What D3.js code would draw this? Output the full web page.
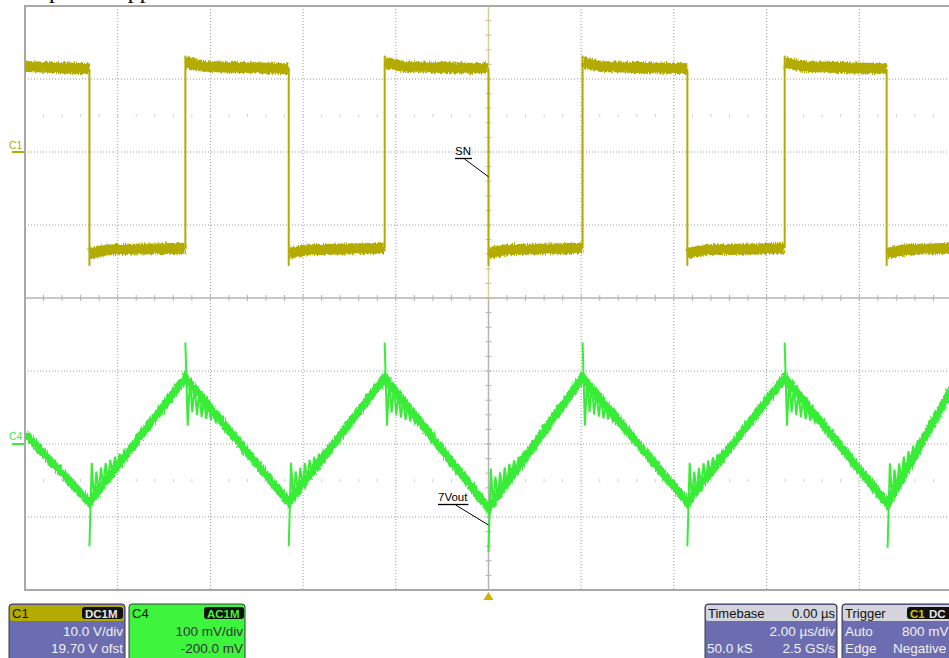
<!DOCTYPE html>
<html>
<head>
<meta charset="utf-8">
<script src="https://cdnjs.cloudflare.com/ajax/libs/d3/7.8.5/d3.min.js"></script>
<style>
  body { margin: 0; background: #fff; }
  svg { display: block; font-family: "Liberation Sans", Arial, sans-serif; }
</style>
</head>
<body>
<div id="scopeContainer"></div>
<script>
// corners of the C4 ripple (µs) and its value there (mV)
let vertexTimes = [-10, -8.61, -6.54, -4.31, -2.24, 0.0, 2.03, 4.29, 6.39, 8.61, 10];
let c4Values = [14, -80, 91, -80, 91, -88, 91, -80, 91, -82, 76];

// ringing right after each corner, mV offsets every 0.05 µs
let ringStep = 0.05;
let ringAfterPeak = [48, -62, 6, -36, 5, -32, 4, -27, 3, -22, 2, -16, 2, -10, 1, -5];
let ringAfterValley = [-60, 50, -6, 30, -5, 27, -4, 25, -4, 21, -3, 17, -2, 13, -2, 9, -1, 5];

// C1 switch node (V)
let c1FallTimes = [-8.61, -4.31, 0.0, 4.29, 8.59];
let c1RiseTimes = [-6.54, -2.24, 2.03, 6.39];
let c1HighLevel = [12.3, 11.7, 11.4];   // start, settled, end of a high phase
let c1LowLevel = [-13.9, -13.4, -13.2];
let c1RiseOvershoot = 13.2;
let c1FallUndershoot = -15.6;

let c1Box = ['C1', 'DC1M', '10.0 V/div', '19.70 V ofst'];
let c4Box = ['C4', 'AC1M', '100 mV/div', '-200.0 mV'];
let timebaseBox = ['Timebase', '0.00 µs', '2.00 µs/div', '50.0 kS', '2.5 GS/s'];
let triggerBox = ['Trigger', 'Auto', '800 mV', 'Edge', 'Negative'];

let width = 949, height = 658;
let plot = {left: 25, right: 952, top: 6, bottom: 590, mid: 298};

let svg = d3.select('#scopeContainer').append('svg')
    .attr('width', width)
    .attr('height', height);

let x = d3.scaleLinear().domain([-10, 10]).range([plot.left, plot.right]);
let yC1 = d3.scaleLinear().domain([-20, 20]).range([plot.mid, plot.top]);
let yC4 = d3.scaleLinear().domain([-200, 200]).range([plot.bottom, plot.mid]);

let c1Color = '#b3ab00', c4Color = '#38ec38';

let defs = svg.append('defs');
defs.append('clipPath').attr('id', 'plotClip')
  .append('rect')
    .attr('x', plot.left).attr('y', plot.top)
    .attr('width', width - plot.left).attr('height', plot.bottom - plot.top);

let fuzz = defs.append('filter').attr('id', 'fuzz')
    .attr('x', '-2%').attr('y', '-20%').attr('width', '104%').attr('height', '140%');
fuzz.append('feTurbulence').attr('type', 'fractalNoise')
    .attr('baseFrequency', '0.9 0.25').attr('numOctaves', 1).attr('seed', 4).attr('result', 'noise');
fuzz.append('feDisplacementMap').attr('in', 'SourceGraphic').attr('in2', 'noise')
    .attr('scale', 6).attr('xChannelSelector', 'R').attr('yChannelSelector', 'G');

// cut-off caption above the screen
svg.append('text').attr('x', 13).attr('y', -2)
    .style('font-family', '"Liberation Serif", serif').style('font-size', '24px')
    .text('Output');
svg.append('text').attr('x', 113).attr('y', -2)
    .style('font-family', '"Liberation Serif", serif').style('font-size', '24px')
    .text('ripple');

// grid
let grid = svg.append('g').attr('class', 'grid');
let vTicks = x.ticks(10).filter(function(d){ return d > -10 && d !== 0 && d < 10; });
grid.selectAll('.vline').data(vTicks).enter().append('line')
    .attr('x1', function(d){ return x(d); }).attr('x2', function(d){ return x(d); })
    .attr('y1', plot.top).attr('y2', plot.bottom)
    .style('stroke', '#9c9c9c').style('stroke-dasharray', '1,2');

let hC1 = yC1.ticks(4).filter(function(d){ return d > -20 && d < 20; });
let hC4 = yC4.ticks(4).filter(function(d){ return d > -200 && d < 200; });
grid.selectAll('.hline1').data(hC1).enter().append('line')
    .attr('x1', plot.left).attr('x2', width)
    .attr('y1', function(d){ return yC1(d); }).attr('y2', function(d){ return yC1(d); })
    .style('stroke', '#9c9c9c').style('stroke-dasharray', '1,2');
grid.selectAll('.hline4').data(hC4).enter().append('line')
    .attr('x1', plot.left).attr('x2', width)
    .attr('y1', function(d){ return yC4(d); }).attr('y2', function(d){ return yC4(d); })
    .style('stroke', '#9c9c9c').style('stroke-dasharray', '1,2');

// faint minor rows
let minorT = d3.range(-10, 10.01, 0.4);
[yC1(5), yC4(-50)].forEach(function(yy){
  grid.selectAll(null).data(minorT).enter().append('line')
      .attr('x1', function(d){ return x(d); }).attr('x2', function(d){ return x(d); })
      .attr('y1', yy - 1.5).attr('y2', yy + 1.5)
      .style('stroke', '#d0d0d0');
});

// centre axes with ticks
grid.append('line').attr('x1', plot.left).attr('x2', width)
    .attr('y1', plot.mid).attr('y2', plot.mid)
    .style('stroke', '#b4b4b4').style('stroke-width', 1.5);
grid.selectAll('.hTick').data(minorT).enter().append('line')
    .attr('x1', function(d){ return x(d); }).attr('x2', function(d){ return x(d); })
    .attr('y1', plot.mid - 3).attr('y2', plot.mid + 3)
    .style('stroke', '#b4b4b4');

grid.append('line').attr('x1', x(0)).attr('x2', x(0))
    .attr('y1', plot.top).attr('y2', plot.mid)
    .style('stroke', '#d2d296').style('stroke-width', 1.5);
grid.append('line').attr('x1', x(0)).attr('x2', x(0))
    .attr('y1', plot.mid).attr('y2', plot.bottom)
    .style('stroke', '#b4b4b4').style('stroke-width', 1.5);
grid.selectAll('.vTick1').data(d3.range(-20, 20.01, 2)).enter().append('line')
    .attr('x1', x(0) - 3).attr('x2', x(0) + 3)
    .attr('y1', function(d){ return yC1(d); }).attr('y2', function(d){ return yC1(d); })
    .style('stroke', '#c8c88a');
grid.selectAll('.vTick4').data(d3.range(-200, 200.01, 20)).enter().append('line')
    .attr('x1', x(0) - 3).attr('x2', x(0) + 3)
    .attr('y1', function(d){ return yC4(d); }).attr('y2', function(d){ return yC4(d); })
    .style('stroke', '#b4b4b4');

// borders
grid.append('path')
    .attr('d', 'M' + width + ',' + plot.top + 'H' + plot.left + 'V' + plot.bottom + 'H' + width)
    .style('fill', 'none').style('stroke', '#a8a8a8').style('stroke-width', 2);

// ---- C1 trace
let c1Group = svg.append('g').attr('clip-path', 'url(#plotClip)');
let edges = c1FallTimes.map(function(t){ return {t: t, type: 'fall'}; })
    .concat(c1RiseTimes.map(function(t){ return {t: t, type: 'rise'}; }))
    .sort(function(a, b){ return a.t - b.t; });

let c1Segments = [];
let segStart = -10, high = true;
edges.concat([{t: 10, type: 'end'}]).forEach(function(e){
  let lv = high ? c1HighLevel : c1LowLevel;
  let pts;
  if (segStart === -10) {
    pts = [[segStart, lv[1]], [e.t, lv[2]]];
  } else {
    pts = [[segStart, lv[0]], [Math.min(segStart + 0.4, e.t), lv[1]], [e.t, lv[2]]];
  }
  c1Segments.push(pts);
  segStart = e.t;
  high = !high;
});

let c1Line = d3.line().x(function(d){ return x(d[0]); }).y(function(d){ return yC1(d[1]); });
c1Group.append('g').attr('filter', 'url(#fuzz)')
  .selectAll('path').data(c1Segments).enter().append('path')
    .attr('d', c1Line)
    .style('fill', 'none').style('stroke', c1Color).style('stroke-width', 11);

c1Group.selectAll('.edge').data(edges).enter().append('line')
    .attr('x1', function(d){ return x(d.t); }).attr('x2', function(d){ return x(d.t); })
    .attr('y1', function(d){ return d.type === 'fall' ? yC1(c1HighLevel[2]) : yC1(c1LowLevel[2]); })
    .attr('y2', function(d){ return d.type === 'fall' ? yC1(c1FallUndershoot) : yC1(c1RiseOvershoot); })
    .style('stroke', c1Color).style('stroke-width', 2);

// ---- C4 trace
let c4Group = svg.append('g').attr('clip-path', 'url(#plotClip)');
let c4Points = vertexTimes.map(function(t, i){ return [t, c4Values[i]]; });
let c4Line = d3.line().x(function(d){ return x(d[0]); }).y(function(d){ return yC4(d[1]); });

c4Group.append('path').datum(c4Points)
    .attr('filter', 'url(#fuzz)')
    .attr('d', c4Line)
    .style('fill', 'none').style('stroke', c4Color).style('stroke-width', 8)
    .style('stroke-linejoin', 'miter');

let rings = [];
for (let i = 1; i < vertexTimes.length - 1; i++) {
  let t0 = vertexTimes[i], v0 = c4Values[i];
  let t1 = vertexTimes[i + 1], v1 = c4Values[i + 1];
  let offsets = v0 > c4Values[i - 1] ? ringAfterPeak : ringAfterValley;
  rings.push(offsets.map(function(o, k){
    let t = t0 + k * ringStep;
    return [t, v0 + (v1 - v0) * (t - t0) / (t1 - t0) + o];
  }));
}
c4Group.selectAll('.ring').data(rings).enter().append('path')
    .attr('d', c4Line)
    .style('fill', 'none').style('stroke', c4Color).style('stroke-width', 2);

// ---- channel markers
svg.append('text').attr('x', 9).attr('y', yC1(0) - 3)
    .style('font-size', '10.5px').style('fill', c1Color).text('C1');
svg.append('line').attr('x1', 12).attr('x2', 24).attr('y1', yC1(0)).attr('y2', yC1(0))
    .style('stroke', c1Color).style('stroke-width', 2);
svg.append('text').attr('x', 9).attr('y', yC4(0) - 4)
    .style('font-size', '10.5px').style('fill', c4Color).text('C4');
svg.append('line').attr('x1', 12).attr('x2', 24).attr('y1', yC4(0)).attr('y2', yC4(0))
    .style('stroke', c4Color).style('stroke-width', 2);

// trigger position marker
svg.append('path')
    .attr('d', 'M' + x(0) + ',' + (plot.bottom + 2) + 'l5,8h-10z')
    .style('fill', '#d0b000');

// ---- trace labels
function traceLabel(label, tx, ty, px, py) {
  let g = svg.append('g');
  let t = g.append('text').attr('x', tx).attr('y', ty)
      .style('font-size', '11.5px').style('fill', '#000').text(label);
  let w = t.node().getComputedTextLength();
  g.append('line').attr('x1', tx).attr('x2', tx + w + 1).attr('y1', ty + 3.5).attr('y2', ty + 3.5)
      .style('stroke', '#000').style('stroke-width', 1.3);
  g.append('line').attr('x1', tx + w * 0.6).attr('y1', ty + 4).attr('x2', px).attr('y2', py)
      .style('stroke', '#000').style('stroke-width', 1);
}
traceLabel('SN', 455, 155, x(0), yC1(-3.4));
traceLabel('7Vout', 438, 501, x(0), yC4(-111));

// ---- info boxes
let purple = '#6c6cb0';
function infoBox(x0, w, headFill, bodyFill, bodyText, headLeft, headRight, badge, rows) {
  let g = svg.append('g');
  g.append('rect').attr('x', x0).attr('y', 604).attr('width', w).attr('height', 60)
      .attr('rx', 3).style('fill', bodyFill).style('stroke', '#3a3a48');
  g.append('rect').attr('x', x0 + 1).attr('y', 605).attr('width', w - 2).attr('height', 16)
      .attr('rx', 2).style('fill', headFill);
  g.append('text').attr('x', x0 + 3).attr('y', 618).style('font-size', '13px')
      .style('fill', '#111').text(headLeft);
  if (headRight) {
    g.append('text').attr('x', x0 + w - 2).attr('y', 618).attr('text-anchor', 'end')
        .style('font-size', '13px').style('fill', '#111').text(headRight);
  }
  if (badge) {
    let bw = badge.w;
    g.append('rect').attr('x', badge.x).attr('y', 607).attr('width', bw).attr('height', 12)
        .attr('rx', 3).style('fill', '#111');
    badge.parts.forEach(function(p){
      g.append('text').attr('x', p.x).attr('y', 617.5).style('font-size', '11.5px')
          .style('font-weight', 'bold').style('fill', p.fill).text(p.text);
    });
  }
  rows.forEach(function(r){
    g.append('text').attr('x', r.x).attr('y', r.y)
        .attr('text-anchor', r.anchor)
        .style('font-size', '13.5px').style('fill', bodyText).text(r.text);
  });
}

infoBox(9, 116, c1Color, purple, '#f2f2f2', c1Box[0], null,
  {x: 82, w: 41, parts: [{x: 85, text: c1Box[1], fill: '#e8e8e8'}]},
  [{x: 123, y: 636, anchor: 'end', text: c1Box[2]},
   {x: 123, y: 653, anchor: 'end', text: c1Box[3]}]);

infoBox(129, 116, '#3cf53c', '#3cf53c', '#333', c4Box[0], null,
  {x: 204, w: 40, parts: [{x: 207, text: c4Box[1], fill: '#3cf53c'}]},
  [{x: 243, y: 636, anchor: 'end', text: c4Box[2]},
   {x: 243, y: 653, anchor: 'end', text: c4Box[3]}]);

infoBox(705, 132, '#d4d4dc', purple, '#f2f2f2', timebaseBox[0], timebaseBox[1], null,
  [{x: 835, y: 636, anchor: 'end', text: timebaseBox[2]},
   {x: 707, y: 653, anchor: 'start', text: timebaseBox[3]},
   {x: 835, y: 653, anchor: 'end', text: timebaseBox[4]}]);

infoBox(842, 130, '#d4d4dc', purple, '#f2f2f2', triggerBox[0], null,
  {x: 907, w: 50, parts: [{x: 910, text: 'C1', fill: '#d0c800'}, {x: 929, text: 'DC', fill: '#e8e8e8'}]},
  [{x: 845, y: 636, anchor: 'start', text: triggerBox[1]},
   {x: 902, y: 636, anchor: 'start', text: triggerBox[2]},
   {x: 845, y: 653, anchor: 'start', text: triggerBox[3]},
   {x: 893, y: 653, anchor: 'start', text: triggerBox[4]}]);
</script>
</body>
</html>
